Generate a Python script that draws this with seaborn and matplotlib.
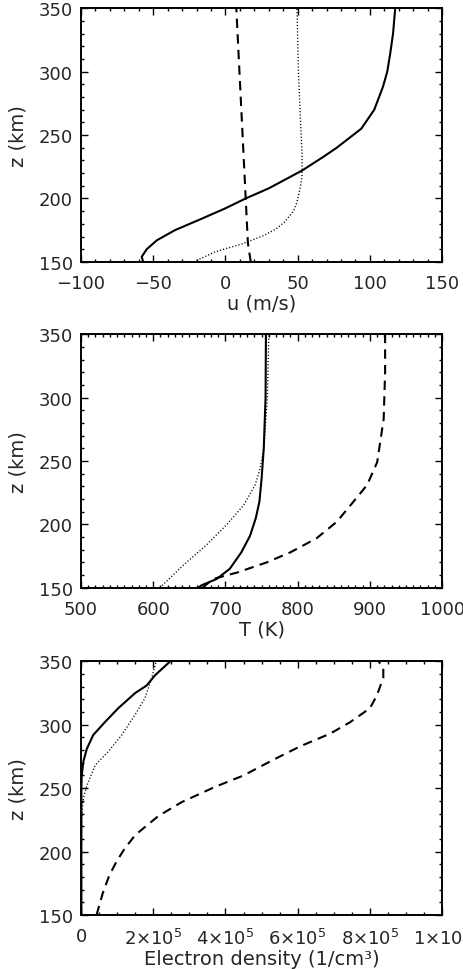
import numpy as np
import matplotlib
matplotlib.use('Agg')
import matplotlib.pyplot as plt
from matplotlib.ticker import MultipleLocator, FixedLocator, FuncFormatter
import seaborn as sns

sns.set_style('ticks')
plt.rcParams['font.family'] = ['DejaVu Sans']

# --- panel 1: zonal wind u (m/s) vs altitude
z_u_solid = [150, 154, 160, 167, 175, 184, 192, 200, 208, 222, 233, 240, 255, 270, 288, 300, 314, 330, 350]
u_solid = [-57, -58, -54.5, -47.5, -35, -16.5, -0.5, 14, 30, 53, 68, 77, 94, 103, 109, 112, 114, 116, 117.5]
z_u_dash = [150, 165, 200, 350]
u_dash = [17.5, 15.5, 14, 7.5]
z_u_dot = [150, 158, 164, 171, 176, 181.5, 190, 197, 210, 218, 235, 260, 300, 350]
u_dot = [-22, -7, 11, 27, 35, 41, 47, 49.5, 52, 53, 53, 52, 50.5, 49.5]

# --- panel 2: temperature T (K)
z_t_solid = [150, 152, 157, 165, 178, 191, 205, 218, 236, 260, 300, 350]
t_solid = [662, 667, 688, 706, 722, 734, 742, 747, 750, 753, 755.5, 756]
z_t_dash = [150, 157, 162, 170, 178, 189, 202, 215, 231, 249, 283, 320, 350]
t_dash = [668, 683, 716, 757, 790, 826, 854, 873, 896, 910, 919, 921, 921]
z_t_dot = [150, 168, 184, 200, 215, 231, 244, 260, 300, 350]
t_dot = [609, 642, 674, 702, 725, 741, 748, 753, 758, 760]

# --- panel 3: electron density (units of 1e5 / cm^3)
z_n_solid = [150, 200, 250, 260, 271, 281, 292, 302, 313, 325, 331, 339, 350]
n_solid = [0.01, 0.01, 0.01, 0.02, 0.065, 0.16, 0.34, 0.66, 1.03, 1.5, 1.82, 2.05, 2.47]
z_n_dash = [150, 167, 181, 192, 202, 213, 228, 239, 251, 260, 272, 283, 293, 302, 313, 323, 337, 345, 350]
n_dash = [0.43, 0.6, 0.78, 0.98, 1.2, 1.5, 2.14, 2.79, 3.71, 4.5, 5.3, 6.07, 6.9, 7.45, 8.0, 8.19, 8.37, 8.37, 8.24]
z_n_dot = [150, 200, 230, 242, 252, 268, 279, 292, 308, 321, 337, 350]
n_dot = [0.0, 0.0, 0.02, 0.065, 0.16, 0.39, 0.76, 1.13, 1.5, 1.77, 1.96, 2.08]

dens_ticks = [0, 2, 4, 6, 8, 10]
dens_labels = ['0', r'$2{\times}10^5$', r'$4{\times}10^5$', r'$6{\times}10^5$',
               r'$8{\times}10^5$', r'$1{\times}10^6$']

fig = plt.figure(figsize=(4.63, 9.70), dpi=100)
left, width, height = 0.175, 0.780, 0.2615
ax1 = fig.add_axes([left, 0.729, width, height])
ax2 = fig.add_axes([left, 0.393, width, height])
ax3 = fig.add_axes([left, 0.0557, width, height])

dash_style = (0, (4.5, 3))
dot_style = (0, (0.8, 1.5))


def draw(ax, xs, zs, ls, lw):
    sns.lineplot(x=xs, y=zs, sort=False, estimator=None, color='black',
                 linestyle=ls, linewidth=lw, ax=ax)


draw(ax1, u_solid, z_u_solid, '-', 1.5)
draw(ax1, u_dash, z_u_dash, dash_style, 1.5)
draw(ax1, u_dot, z_u_dot, dot_style, 1.0)

draw(ax2, t_solid, z_t_solid, '-', 1.5)
draw(ax2, t_dash, z_t_dash, dash_style, 1.5)
draw(ax2, t_dot, z_t_dot, dot_style, 1.0)

draw(ax3, n_solid, z_n_solid, '-', 1.5)
draw(ax3, n_dash, z_n_dash, dash_style, 1.5)
draw(ax3, n_dot, z_n_dot, dot_style, 1.0)

ax1.set_xlim(-100, 150)
ax1.xaxis.set_major_locator(MultipleLocator(50))
ax1.xaxis.set_minor_locator(MultipleLocator(10))
ax1.xaxis.set_major_formatter(FuncFormatter(lambda v, p: f'{v:.0f}'.replace('-', '\u2212')))
ax1.set_xlabel('u (m/s)')

ax2.set_xlim(500, 1000)
ax2.xaxis.set_major_locator(MultipleLocator(100))
ax2.xaxis.set_minor_locator(MultipleLocator(10))
ax2.set_xlabel('T (K)')

ax3.set_xlim(0, 10)
ax3.xaxis.set_major_locator(FixedLocator(dens_ticks))
ax3.set_xticklabels(dens_labels)
ax3.xaxis.set_minor_locator(MultipleLocator(0.5))
ax3.set_xlabel('Electron density (1/cm\u00b3)')

for ax in (ax1, ax2, ax3):
    ax.set_ylim(150, 350)
    ax.yaxis.set_major_locator(MultipleLocator(50))
    ax.yaxis.set_minor_locator(MultipleLocator(10))
    ax.set_ylabel('z (km)', fontsize=14, labelpad=8)
    ax.xaxis.label.set_size(14)
    ax.xaxis.labelpad = 1
    ax.tick_params(which='both', direction='in', top=True, right=True,
                   labelsize=13, width=1.0, color='black')
    ax.tick_params(axis='x', which='major', length=5, pad=9)
    ax.tick_params(axis='y', which='major', length=5, pad=6)
    ax.tick_params(which='minor', length=2.5)
    for s in ax.spines.values():
        s.set_linewidth(1.4)
        s.set_color('black')
    ax.set_facecolor('white')

fig.savefig('out.png', dpi=100, facecolor='white')
